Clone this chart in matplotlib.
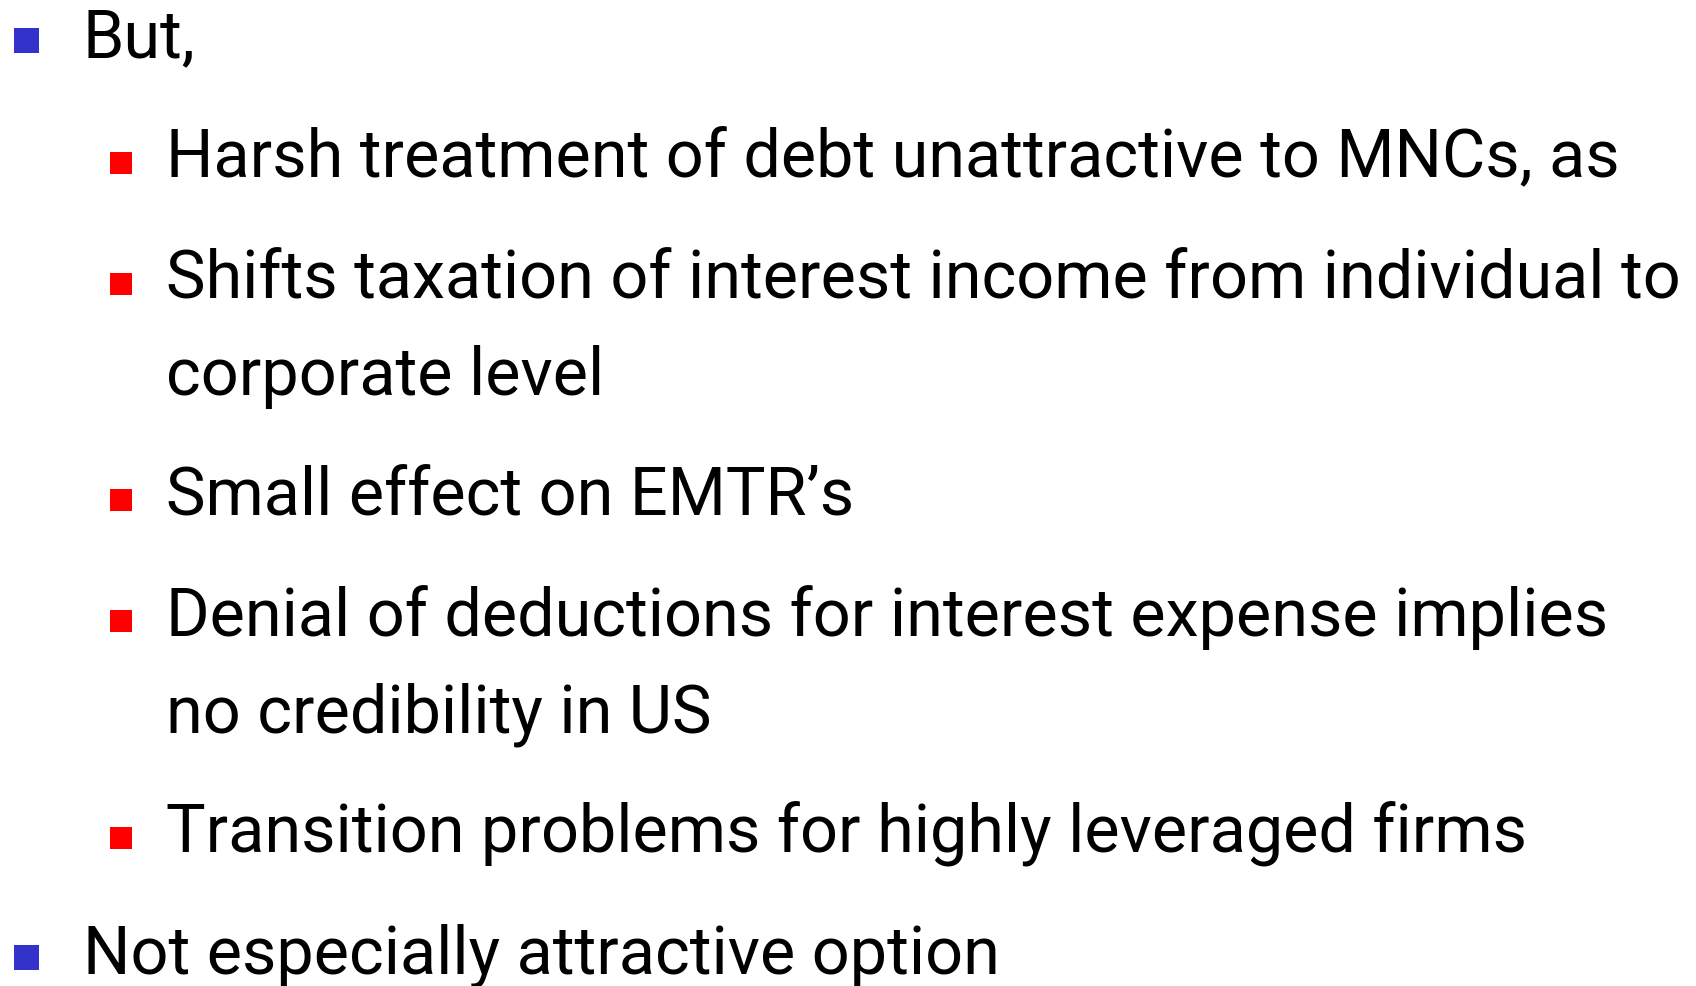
import matplotlib
matplotlib.use("Agg")
import matplotlib.pyplot as plt
from matplotlib import font_manager
from matplotlib.patches import Rectangle

W, H = 1696, 987

# slide content: (level, lines of the bullet)
levels = [1, 2, 2, 2, 2, 2, 1]
bullets = [
    ["But,"],
    ["Harsh treatment of debt unattractive to MNCs, as"],
    ["Shifts taxation of interest income from individual to",
     "corporate level"],
    ["Small effect on EMTR\u2019s"],
    ["Denial of deductions for interest expense implies",
     "no credibility in US"],
    ["Transition problems for highly leveraged firms"],
    ["Not especially attractive option"],
]

text_x = {1: 83, 2: 166}
bullet_x = {1: 14, 2: 110}
bullet_size = {1: 25, 2: 22}
bullet_color = {1: "#3333cc", 2: "#ff0000"}

first_baseline = 57
para_gap = 120.8
line_gap = 96


def pick_font():
    for name in ["Liberation Sans Narrow", "Roboto", "DejaVu Sans"]:
        try:
            font_manager.findfont(name, fallback_to_default=False)
            return name
        except Exception:
            continue
    return "DejaVu Sans"


family = pick_font()

fig = plt.figure(figsize=(W / 100, H / 100), dpi=100)
ax = fig.add_axes([0, 0, 1, 1])
ax.set_xlim(0, W)
ax.set_ylim(H, 0)
ax.axis("off")

# fit the font size so the longest line spans as in the slide
probe = ax.text(0, 0, bullets[2][0], fontsize=40, family=family)
renderer = fig.canvas.get_renderer()
width = probe.get_window_extent(renderer).width
probe.remove()
target = 1677 - text_x[2]
size = 40 * target / width

y = first_baseline
for i, (lvl, lines) in enumerate(zip(levels, bullets)):
    if i > 0:
        y += para_gap
    s = bullet_size[lvl]
    ax.add_patch(Rectangle((bullet_x[lvl], y - 3 - s), s, s,
                           color=bullet_color[lvl], lw=0))
    for j, line in enumerate(lines):
        if j > 0:
            y += line_gap
        ax.text(text_x[lvl], y, line, fontsize=size, family=family,
                color="black", va="baseline", ha="left")

fig.savefig("out.png", dpi=100, facecolor="white")
